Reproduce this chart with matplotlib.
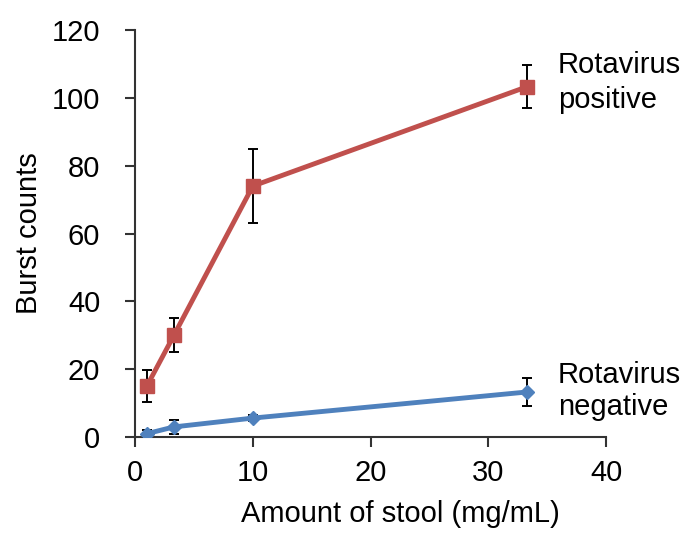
import matplotlib
matplotlib.use("Agg")
import matplotlib.pyplot as plt

plt.rcParams['font.family'] = ['Liberation Sans', 'DejaVu Sans']

x_vals = [1, 3.3, 10, 33.3]
pos_vals = [15, 30, 74, 103.3]
pos_err = [4.8, 5, 11, 6.3]
neg_vals = [1, 3, 5.6, 13.3]
neg_err = [1, 2, 0.8, 4]
x_ticks = [0, 10, 20, 30, 40]
y_ticks = [0, 20, 40, 60, 80, 100, 120]

red = '#C0504D'
blue = '#4F81BD'
fs = 21

fig = plt.figure(figsize=(6.96, 5.45), dpi=100)
ax = fig.add_axes([0.194, 0.198, 0.677, 0.747])

ax.errorbar(x_vals, pos_vals, yerr=pos_err, color=red, lw=3.5, marker='s', ms=10,
            ecolor='black', elinewidth=1.4, capsize=3.3, capthick=1.4, zorder=3)
ax.errorbar(x_vals, neg_vals, yerr=neg_err, color=blue, lw=3.5, marker='D', ms=7,
            ecolor='black', elinewidth=1.4, capsize=3.3, capthick=1.4, zorder=3)

ax.set_xlim(0, 40)
ax.set_ylim(0, 120)
ax.set_xticks(x_ticks)
ax.set_yticks(y_ticks)
for s in ['top', 'right']:
    ax.spines[s].set_visible(False)
for s in ['left', 'bottom']:
    ax.spines[s].set_linewidth(1.5)
    ax.spines[s].set_color('#333333')
ax.tick_params(direction='out', length=7, width=1.5, color='#333333', labelsize=fs)
ax.tick_params(axis='y', pad=18)
ax.tick_params(axis='x', pad=8.5)
ax.set_xlabel('Amount of stool (mg/mL)', fontsize=fs, labelpad=6)
ax.xaxis.set_label_coords(0.563, -0.155)
ax.set_ylabel('Burst counts', fontsize=fs, labelpad=6)

ax.text(35.9, 107.4, 'Rotavirus', fontsize=fs, ha='left', va='baseline', clip_on=False)
ax.text(35.9, 97.0, 'positive', fontsize=fs, ha='left', va='baseline', clip_on=False)
ax.text(35.9, 15.9, 'Rotavirus', fontsize=fs, ha='left', va='baseline', clip_on=False)
ax.text(35.9, 6.5, 'negative', fontsize=fs, ha='left', va='baseline', clip_on=False)

fig.savefig('out.png', dpi=100)
